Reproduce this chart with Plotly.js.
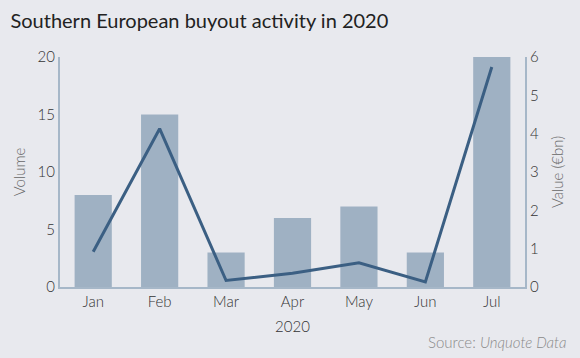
<!DOCTYPE html>
<html><head><meta charset="utf-8">
<script src="https://cdn.plot.ly/plotly-3.0.1.min.js"></script>
<style>html,body{margin:0;padding:0;background:#e8e9ee;}</style>
</head><body>
<div id="chart" style="width:580px;height:358px;"></div>
<script>
const months = ["Jan","Feb","Mar","Apr","May","Jun","Jul"];
const volume = [8,15,3,6,7,3,20];
const valueBn = [0.92,4.13,0.17,0.36,0.63,0.13,5.74];

const font = "Lato, 'Open Sans', sans-serif";
const tf = {family:font, size:15, color:"#333", weight:300};
const af = {family:font, size:15, color:"#666", weight:300};
const data = [
  {type:"bar", x:months, y:volume, marker:{color:"#9fb1c3"}, width:0.56, yaxis:"y", hoverinfo:"none"},
  {type:"scatter", mode:"lines", x:months, y:valueBn, yaxis:"y2", line:{color:"#3b5f83", width:3}, hoverinfo:"none"}
];
const layout = {
  width:580, height:358,
  paper_bgcolor:"#e8e9ee", plot_bgcolor:"#e8e9ee",
  margin:{l:60, r:55, t:57, b:71},
  showlegend:false,
  font:{family:font, color:"#444", size:15},
  title:{text:"Southern European buyout activity in 2020", x:0.018, xanchor:"left", y:0.94, yanchor:"middle", font:{family:font, size:20, color:"#222"}},
  xaxis:{type:"category", showline:true, linecolor:"#a6b7c8", linewidth:2, showgrid:false, ticks:"", zeroline:false,
         title:{text:"2020", font:tf, standoff:12}, tickfont:tf},
  yaxis:{range:[0,20], dtick:5, showline:true, linecolor:"#a6b7c8", linewidth:2, showgrid:false, zeroline:false, ticks:"",
         title:{text:"Volume", font:af, standoff:8}, tickfont:tf},
  yaxis2:{range:[0,6], dtick:1, overlaying:"y", side:"right", showline:true, linecolor:"#a6b7c8", linewidth:2, showgrid:false, zeroline:false, ticks:"",
         title:{text:"Value (€bn)", font:af, standoff:14}, tickfont:tf},
  annotations:[{text:"Source: <i>Unquote Data</i>", xref:"paper", yref:"paper", x:1.095, y:-0.238, xanchor:"right", yanchor:"middle",
    showarrow:false, font:{family:font, size:15, color:"#8a8a8a", weight:300}}]
};
Plotly.newPlot("chart", data, layout, {displayModeBar:false, staticPlot:true});
</script>
</body></html>
